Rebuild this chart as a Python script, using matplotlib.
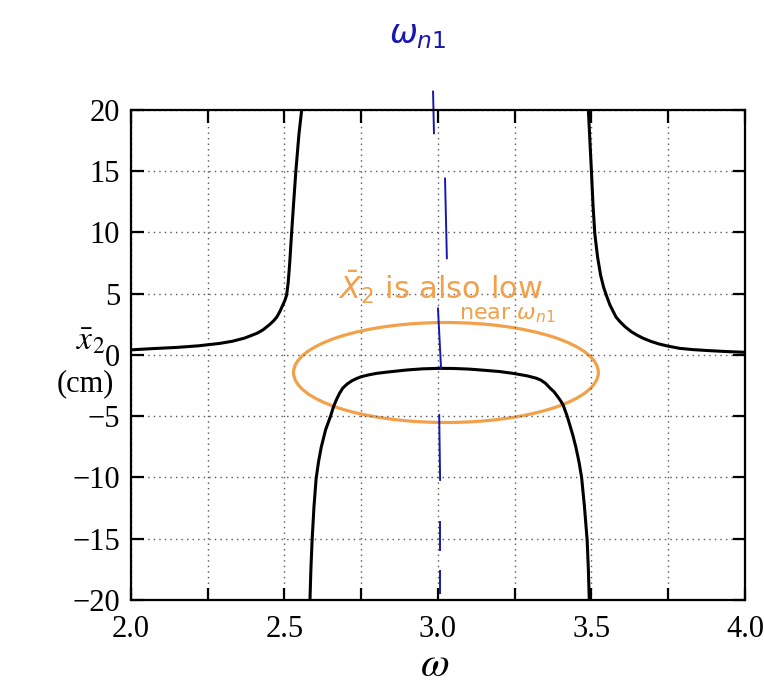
import matplotlib
matplotlib.use("Agg")
import matplotlib.pyplot as plt
from matplotlib.patches import Ellipse

# ---- data ----
# branch below the first resonance
w_low = [2.00, 2.07, 2.15, 2.22, 2.29, 2.33, 2.37, 2.41, 2.43, 2.45, 2.465, 2.475, 2.485,
         2.495, 2.502, 2.507, 2.512, 2.517, 2.523, 2.530, 2.537, 2.547, 2.556]
x_low = [0.42, 0.52, 0.62, 0.75, 0.95, 1.12, 1.38, 1.77, 2.05, 2.45, 2.8, 3.1, 3.55,
         4.1, 4.5, 4.9, 5.9, 7.5, 9.9, 12.5, 15.0, 18.0, 20.0]

# branch between the two resonances
w_mid = [2.583, 2.586, 2.590, 2.596, 2.603, 2.611, 2.620, 2.634, 2.650, 2.660, 2.670, 2.680,
         2.690, 2.705, 2.720, 2.735, 2.750, 2.775, 2.800, 2.833, 2.900, 2.950, 3.006, 3.050,
         3.100, 3.137, 3.200, 3.245, 3.290, 3.321, 3.335, 3.350, 3.365, 3.378, 3.390, 3.400,
         3.408, 3.421, 3.430, 3.440, 3.450, 3.460, 3.468, 3.477, 3.486, 3.490, 3.493]
x_mid = [-20.0, -17.5, -15.1, -12.4, -10.1, -8.7, -7.5, -6.1, -5.0, -4.2, -3.6, -3.1,
         -2.7, -2.35, -2.1, -1.92, -1.77, -1.62, -1.5, -1.4, -1.22, -1.13, -1.09, -1.1,
         -1.15, -1.22, -1.35, -1.5, -1.7, -1.9, -2.05, -2.3, -2.7, -3.0, -3.4, -3.75,
         -4.1, -5.0, -5.75, -6.6, -7.6, -8.8, -10.0, -12.3, -15.1, -17.5, -20.0]

# branch above the second resonance
w_high = [3.490, 3.495, 3.500, 3.505, 3.511, 3.520, 3.530, 3.540, 3.549, 3.560, 3.570, 3.580,
          3.593, 3.610, 3.630, 3.650, 3.669, 3.695, 3.720, 3.750, 3.788, 3.830, 3.880, 3.940, 4.000]
x_high = [20.0, 17.5, 15.0, 12.3, 9.9, 8.0, 6.5, 5.5, 4.85, 4.1, 3.6, 3.1,
          2.72, 2.3, 1.9, 1.6, 1.36, 1.1, 0.9, 0.72, 0.54, 0.44, 0.36, 0.28, 0.22]

x_ticks = [2.0, 2.25, 2.5, 2.75, 3.0, 3.25, 3.5, 3.75, 4.0]
x_tick_labels = ["2.0", "", "2.5", "", "3.0", "", "3.5", "", "4.0"]
y_ticks = [-20, -15, -10, -5, 0, 5, 10, 15, 20]
y_tick_labels = ["\u221220", "\u221215", "\u221210", "\u22125", "0", "5", "10", "15", "20"]

# hand-drawn annotation: dashed blue line at omega_n1 (segments)
blue_seg_w = [(2.984, 2.987), (3.023, 3.029), (3.000, 3.010), (3.004, 3.007), (3.007, 3.007), (3.007, 3.007)]
blue_seg_y = [(21.5, 18.1), (14.4, 7.9), (3.8, -1.06), (-4.9, -10.2), (-13.6, -15.9), (-17.6, -19.4)]

# hand-drawn annotation: orange ellipse (centre, width, height in data units)
ell_center = (3.026, -1.43)
ell_width = 0.993
ell_height = 8.16

serif = ["Liberation Serif", "DejaVu Serif"]
plt.rcParams["font.family"] = serif

fig = plt.figure(figsize=(7.64, 6.93), dpi=100)
ax = fig.add_axes([0.1715, 0.1342, 0.8035, 0.7071])

for w, x in [(w_low, x_low), (w_mid, x_mid), (w_high, x_high)]:
    ax.plot(w, x, color="black", lw=2.2, solid_joinstyle="round", solid_capstyle="butt")

ax.set_xlim(2.0, 4.0)
ax.set_ylim(-20, 20)
ax.tick_params(direction="in", length=9, width=1.6, top=True, right=True, labelsize=22)
ax.tick_params(axis="x", pad=11)
ax.tick_params(axis="y", pad=8)
ax.set_xticks(x_ticks)
ax.set_xticklabels(x_tick_labels, fontsize=22)
ax.set_yticks(y_ticks)
ax.set_yticklabels(y_tick_labels, fontsize=22)
ax.grid(True, linestyle=(0, (1, 3)), color="#555555", lw=1.0)
for s in ax.spines.values():
    s.set_linewidth(1.6)

# axis labels
fig.text(0.569, 0.040, r"$\omega$", fontsize=30, ha="center", va="center",
         math_fontfamily="stix")
fig.text(0.119, 0.507, r"$\bar{x}_2$", fontsize=24, ha="center", va="center",
         math_fontfamily="stix")
fig.text(0.112, 0.446, "(cm)", fontsize=22, ha="center", va="center")

# annotations
blue = "#1818b0"
for (wa, wb), (ya, yb) in zip(blue_seg_w, blue_seg_y):
    ax.plot([wa, wb], [ya, yb], color=blue, lw=1.4, clip_on=False)
ax.text(2.935, 26.1, r"$\omega_{n1}$", color=blue, fontsize=24, ha="center", va="center",
        clip_on=False, math_fontfamily="dejavusans")

orange = "#f2a04a"
ax.add_patch(Ellipse(ell_center, ell_width, ell_height, fill=False, edgecolor=orange, lw=2.3))
ax.text(3.007, 5.55, r"$\bar{X}_2$ is also low", color=orange, fontsize=22, ha="center",
        va="center", fontfamily="DejaVu Sans", math_fontfamily="dejavusans")
ax.text(3.225, 3.27, r"near $\omega_{n1}$", color=orange, fontsize=16, ha="center",
        va="center", fontfamily="DejaVu Sans", math_fontfamily="dejavusans")

fig.savefig("out.png", dpi=100)
